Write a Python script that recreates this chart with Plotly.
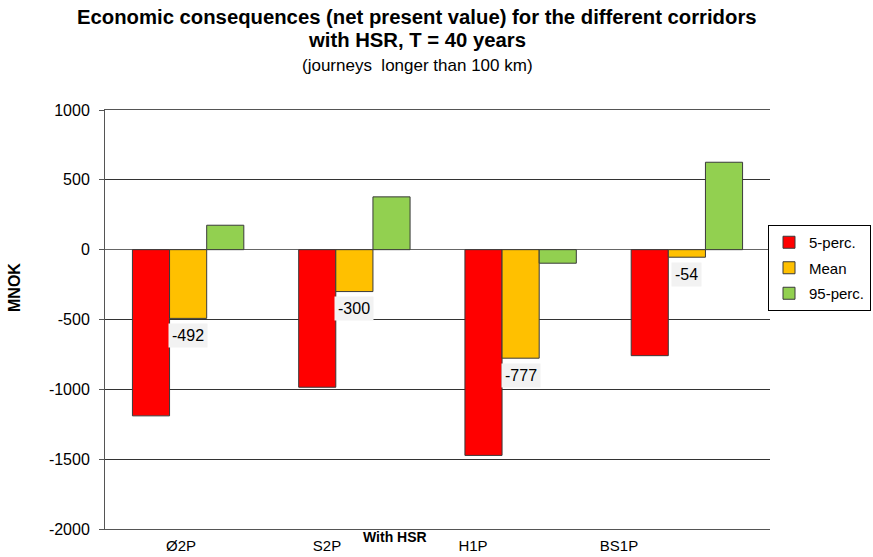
import plotly.graph_objects as go

categories = ["Ø2P", "S2P", "H1P", "BS1P"]
p5 = [-1190, -985, -1473, -759]
mean = [-492, -300, -777, -54]
p95 = [175, 378, -97, 626]
series_names = ["5-perc.", "Mean", "95-perc."]
colors = ["#FF0000", "#FFC000", "#92D050"]
yticks = [1000, 500, 0, -500, -1000, -1500, -2000]

FONT = "Liberation Sans, Arial, sans-serif"

w, h = 873, 557
ml, mr, mt, mb = 105, 103, 110, 28
pw, ph = w - ml - mr, h - mt - mb


def px_to_paper(xp, yp):
    return (xp - ml) / pw, (h - mb - yp) / ph


fig = go.Figure()
for name, vals, col in zip(series_names, [p5, mean, p95], colors):
    fig.add_trace(go.Bar(
        x=categories, y=vals, name=name, legendgroup=name,
        marker=dict(color=col, line=dict(color="#3a3a3a", width=1)),
    ))

# helper axis for category labels (Excel-style label placement)
fig.add_trace(go.Scatter(x=[0, 1, 2, 3], y=[None] * 4, xaxis="x2",
                         showlegend=False, hoverinfo="skip"))

anns = []
for c, v in zip(categories, mean):
    anns.append(dict(x=c, y=v, xref="x", yref="y", text=str(v),
                     showarrow=False, yshift=-17, bgcolor="#F2F2F2",
                     borderpad=3, font=dict(size=16, color="#000", family=FONT)))

for text, yp, size, bold in [
    ("Economic consequences (net present value) for the different corridors", 17, 20.3, True),
    ("with HSR, T = 40 years", 40, 20.3, True),
    ("(journeys  longer than 100 km)", 65, 17, False),
]:
    xpp, ypp = px_to_paper(417, yp)
    anns.append(dict(x=xpp, y=ypp, xref="paper", yref="paper",
                     text=f"<b>{text}</b>" if bold else text, showarrow=False,
                     xanchor="center", yanchor="middle",
                     font=dict(size=size, color="#000", family=FONT)))

xpp, ypp = px_to_paper(395, 537)
anns.append(dict(x=xpp, y=ypp, xref="paper", yref="paper", text="<b>With HSR</b>",
                 showarrow=False, xanchor="center", yanchor="middle",
                 font=dict(size=14, color="#000", family=FONT)))
xpp, ypp = px_to_paper(14, 288)
anns.append(dict(x=xpp, y=ypp, xref="paper", yref="paper", text="<b>MNOK</b>",
                 showarrow=False, xanchor="center", yanchor="middle", textangle=-90,
                 font=dict(size=16, color="#000", family=FONT)))

lx, ly = px_to_paper(871, 225)

fig.update_layout(
    width=w, height=h,
    margin=dict(l=ml, r=mr, t=mt, b=mb, autoexpand=False),
    paper_bgcolor="white", plot_bgcolor="white",
    barmode="group", bargap=0.33, bargroupgap=0,
    annotations=anns,
    font=dict(family=FONT, color="#000", size=16),
    showlegend=True,
    legend=dict(x=lx, y=ly, xanchor="right", yanchor="top",
                bordercolor="#000", borderwidth=1, bgcolor="white",
                font=dict(size=15, family=FONT), tracegroupgap=3,
                itemwidth=30),
    xaxis=dict(showticklabels=False, ticks="", showline=True, mirror=True,
               linecolor="#555", linewidth=1,
               showgrid=False, zeroline=False, automargin=False),
    xaxis2=dict(overlaying="x", side="bottom", range=[-0.5205, 4.034],
                tickvals=[0, 1, 2, 3], ticktext=categories, ticks="",
                ticklabelstandoff=6,
                showgrid=False, zeroline=False, showline=False, automargin=False,
                tickfont=dict(size=15, family=FONT, color="#000")),
    yaxis=dict(range=[-2000, 1000], tickvals=yticks,
               ticktext=[str(t) for t in yticks],
               ticks="outside", ticklen=5, ticklabelstandoff=6,
               tickcolor="#555", showline=True, linecolor="#555", linewidth=1,
               showgrid=True, gridcolor="#333", gridwidth=1,
               zeroline=True, zerolinecolor="#666", zerolinewidth=1,
               automargin=False,
               tickfont=dict(size=16, family=FONT, color="#000")),
)

fig.write_html("out.html", config={"displayModeBar": False},
               post_script="document.body.style.margin='0';document.body.style.overflow='hidden';")
